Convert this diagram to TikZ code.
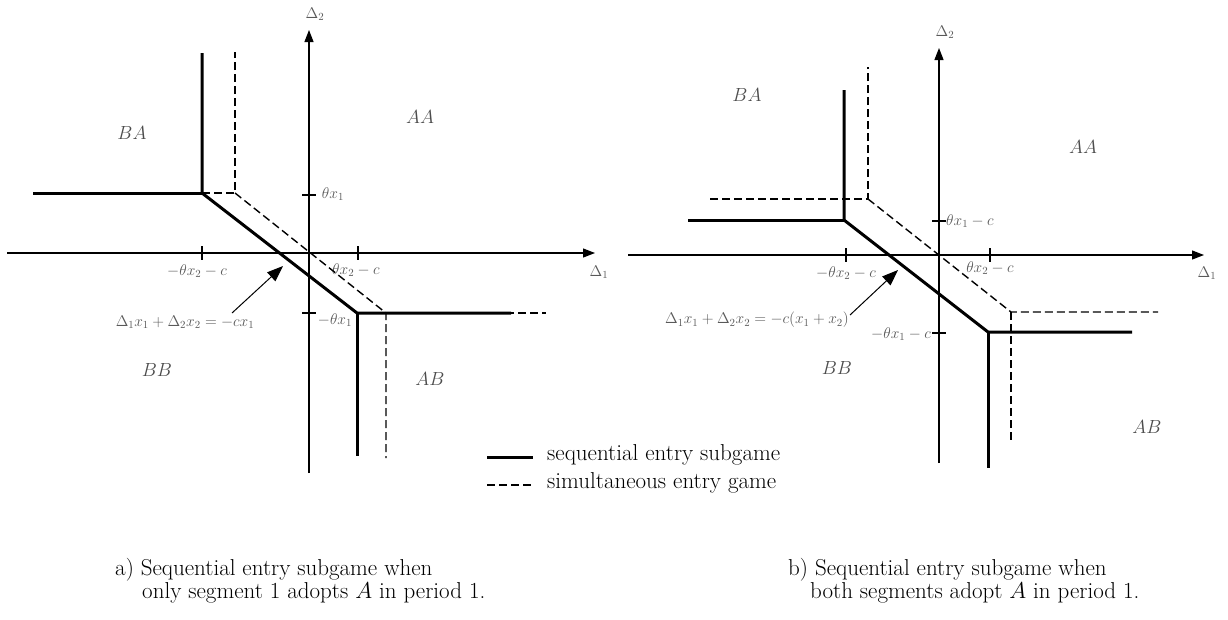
\RequirePackage{fix-cm}
\documentclass[tikz,border=0pt]{standalone}
\usetikzlibrary{arrows.meta}
\begin{document}
\begin{tikzpicture}[x=1pt,y=-1pt,
  axis/.style={line width=1.2pt,-{Triangle[length=12pt,width=9pt]}},
  seq/.style={line width=3pt},
  sim/.style={line width=1.4pt,dash pattern=on 8pt off 4pt},
  tickmk/.style={line width=1.2pt},
  lab/.style={text=black!65,font=\fontsize{15.5}{18}\selectfont,inner sep=0pt},
  reg/.style={text=black!70,font=\fontsize{19}{22}\selectfont,inner sep=0pt},
  captxt/.style={font=\fontsize{23}{23}\selectfont,inner sep=0pt,anchor=west},
  ann/.style={line width=1pt,-{Triangle[length=16pt,width=12pt]}}]
\useasboundingbox[fill=white] (0,0) rectangle (1228,619);

% ---------------- left panel ----------------
\coordinate (Lxa) at (7,253);
\coordinate (Lxb) at (595,253);
\coordinate (Lya) at (309,473);
\coordinate (Lyb) at (309,30);
\draw[axis] (Lxa) -- (Lxb);
\draw[axis] (Lya) -- (Lyb);
\node[lab] (LD1) at (599,272) {$\Delta_1$};
\node[lab] (LD2) at (315,14) {$\Delta_2$};
% ticks
\draw[tickmk] (202,246) -- (202,260);
\draw[tickmk] (358,246) -- (358,260);
\draw[tickmk] (302,195) -- (316,195);
\draw[tickmk] (302,313) -- (316,313);
\node[lab] (Lt1) at (333,194) {$\theta x_1$};
\node[lab] (Lt2) at (335,320) {$-\theta x_1$};
\node[lab] (Lt3) at (197,271) {$-\theta x_2-c$};
\node[lab] (Lt4) at (356,270) {$\theta x_2-c$};
% simultaneous (dashed)
\coordinate (LsA) at (235,52);
\coordinate (LsB) at (235,193);
\coordinate (LsC) at (386,313);
\coordinate (LsD) at (386,458);
\coordinate (LsE) at (546,313);
\draw[sim] (202,193) -- (LsB) -- (LsA);
\draw[sim] (LsB) -- (LsC) -- (LsD);
\draw[sim] (LsC) -- (LsE);
% sequential (solid)
\coordinate (LqA) at (202,53);
\coordinate (LqB) at (202,193);
\coordinate (LqL) at (33,193);
\coordinate (LqC) at (357,313);
\coordinate (LqR) at (511,313);
\coordinate (LqD) at (357,456);
\draw[seq] (LqL) -- (LqB);
\draw[seq] (LqA) -- (LqB) -- (LqC) -- (LqR);
\draw[seq] (LqC) -- (LqD);
% annotation
\node[lab] (Leq) at (185,322) {$\Delta_1x_1+\Delta_2x_2=-cx_1$};
\coordinate (Ltip) at (283,266);
\draw[ann] (232,313) -- (Ltip);
% regions
\node[reg] (LBA) at (132,133) {$BA$};
\node[reg] (LAA) at (420,117) {$AA$};
\node[reg] (LBB) at (157,370) {$BB$};
\node[reg] (LAB) at (430,379) {$AB$};

% ---------------- right panel ----------------
\coordinate (Rxa) at (628,255);
\coordinate (Rxb) at (1204,255);
\coordinate (Rya) at (939,463);
\coordinate (Ryb) at (939,48);
\draw[axis] (Rxa) -- (Rxb);
\draw[axis] (Rya) -- (Ryb);
\node[lab] (RD1) at (1207,273) {$\Delta_1$};
\node[lab] (RD2) at (945,32) {$\Delta_2$};
\draw[tickmk] (846,248) -- (846,262);
\draw[tickmk] (990,248) -- (990,262);
\draw[tickmk] (932,221) -- (946,221);
\draw[tickmk] (932,333) -- (946,333);
\node[lab,anchor=west] (Rt1) at (946,221) {$\theta x_1-c$};
\node[lab,anchor=east] (Rt2) at (931,334) {$-\theta x_1-c$};
\node[lab] (Rt3) at (846,273) {$-\theta x_2-c$};
\node[lab] (Rt4) at (990,268) {$\theta x_2-c$};
% simultaneous (dashed)
\coordinate (RsA) at (868,67);
\coordinate (RsB) at (868,199);
\coordinate (RsL) at (710,199);
\coordinate (RsC) at (1011,312);
\coordinate (RsR) at (1158,312);
\coordinate (RsD) at (1011,443);
\draw[sim] (RsL) -- (RsB) -- (RsA);
\draw[sim] (RsB) -- (RsC) -- (RsR);
\draw[sim] (RsC) -- (RsD);
% sequential (solid)
\coordinate (RqA) at (844,90);
\coordinate (RqB) at (844,220);
\coordinate (RqL) at (688,220);
\coordinate (RqC) at (988,332);
\coordinate (RqR) at (1132,332);
\coordinate (RqD) at (988,468);
\draw[seq] (RqL) -- (RqB);
\draw[seq] (RqA) -- (RqB) -- (RqC) -- (RqR);
\draw[seq] (RqC) -- (RqD);
% annotation
\node[lab] (Req) at (757,320) {$\Delta_1x_1+\Delta_2x_2=-c(x_1+x_2)$};
\coordinate (Rtip) at (898,270);
\draw[ann] (850,315) -- (Rtip);
% regions
\node[reg] (RBA) at (747,95) {$BA$};
\node[reg] (RAA) at (1083,147) {$AA$};
\node[reg] (RBB) at (837,368) {$BB$};
\node[reg] (RAB) at (1147,427) {$AB$};

% ---------------- legend ----------------
\coordinate (G1a) at (487,457);
\coordinate (G1b) at (533,457);
\coordinate (G2a) at (487,485);
\coordinate (G2b) at (533,485);
\draw[seq] (G1a) -- (G1b);
\draw[sim] (G2a) -- (G2b);
\node[captxt] (G1t) at (547,455) {sequential entry subgame};
\node[captxt] (G2t) at (547,483) {simultaneous entry game};

% ---------------- captions ----------------
\node[captxt] (Ca1) at (115,570) {a) Sequential entry subgame when};
\node[captxt] (Ca2) at (142,593) {only segment 1 adopts $A$ in period 1.};
\node[captxt] (Cb1) at (788,570) {b) Sequential entry subgame when};
\node[captxt] (Cb2) at (810,593) {both segments adopt $A$ in period 1.};
\end{tikzpicture}
\end{document}
